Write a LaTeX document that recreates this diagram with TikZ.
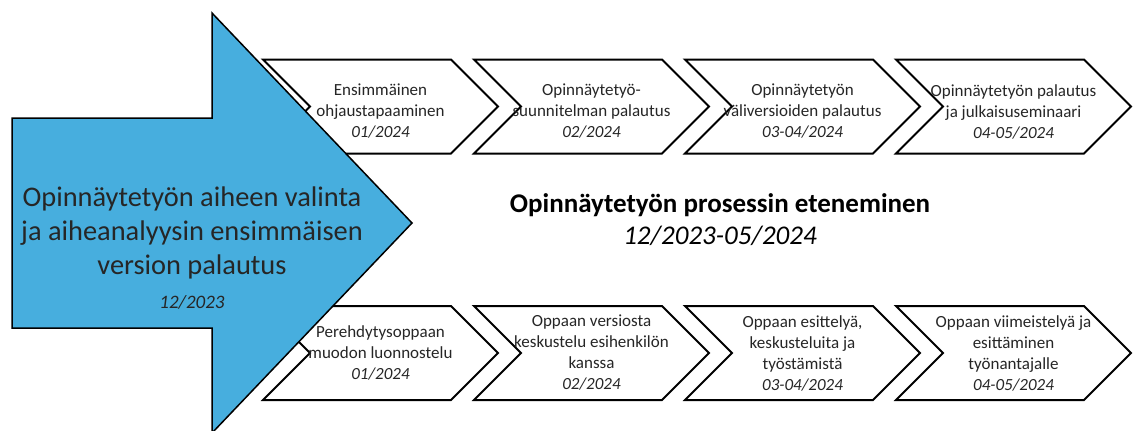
\documentclass[tikz,border=0pt]{standalone}
\usepackage{fontspec}
\setmainfont{Carlito}
\definecolor{opblue}{HTML}{47AEDE}
\definecolor{optext}{HTML}{262626}
\usetikzlibrary{shapes.symbols}

\begin{document}
\begin{tikzpicture}[x=0.5pt, y=-0.5pt,
  vaihe/.style={signal, signal from=west, signal to=east, signal pointer angle=90,
              draw=black, line width=1pt, fill=white, minimum width=117.5pt,
              minimum height=47pt, inner sep=0pt},
  vteksti/.style={align=center, text=optext, inner sep=0pt,
              font=\fontsize{8.5}{10.5}\selectfont}
]
  \useasboundingbox (0,0) rectangle (1133,430);

  % Opinnaytetyo (top row)
  \node[vaihe] (t1) at (380.5,106.5) {};
  \node[vaihe] (t2) at (591.5,106.5) {};
  \node[vaihe] (t3) at (802.5,106.5) {};
  \node[vaihe] (t4) at (1013.5,106.5) {};
  \node[vteksti] (t1txt) at ([yshift=-2.5pt]t1.center) {Ensimmäinen\\ohjaustapaaminen\\\textit{01/2024}};
  \node[vteksti] (t2txt) at ([yshift=-2.5pt]t2.center) {Opinnäytetyö-\\suunnitelman palautus\\\textit{02/2024}};
  \node[vteksti] (t3txt) at ([yshift=-2.5pt]t3.center) {Opinnäytetyön\\väliversioiden palautus\\\textit{03-04/2024}};
  \node[vteksti] (t4txt) at ([yshift=-2.5pt]t4.center) {Opinnäytetyön palautus\\ja julkaisuseminaari\\\textit{04-05/2024}};

  % Opas (bottom row)
  \node[vaihe] (o1) at (380.5,353) {};
  \node[vaihe] (o2) at (591.5,353) {};
  \node[vaihe] (o3) at (802.5,353) {};
  \node[vaihe] (o4) at (1013.5,353) {};
  \node[vteksti] (o1txt) at (o1) {Perehdytysoppaan\\muodon luonnostelu\\\textit{01/2024}};
  \node[vteksti] (o2txt) at (o2) {Oppaan versiosta\\keskustelu esihenkilön\\kanssa\\\textit{02/2024}};
  \node[vteksti] (o3txt) at (o3) {Oppaan esittelyä,\\keskusteluita ja\\työstämistä\\\textit{03-04/2024}};
  \node[vteksti] (o4txt) at (o4) {Oppaan viimeistelyä ja\\esittäminen\\työnantajalle\\\textit{04-05/2024}};

  % Big arrow
  \draw[fill=opblue, line width=0.75pt] (12,118) -- (212,118) -- (212,13) -- (412,223)
    -- (212,433) -- (212,328) -- (12,328) -- cycle;
  \node[align=center, text=optext, font=\fontsize{14.2}{17}\selectfont] (aihe) at (192,248)
    {Opinnäytetyön aiheen valinta\\ja aiheanalyysin ensimmäisen\\version palautus\\
     {\fontsize{9.5}{16}\selectfont\itshape 12/2023}};

  % Title
  \node[align=center, font=\fontsize{13.5}{16}\selectfont\bfseries] (otsikko) at (720,220)
    {Opinnäytetyön prosessin eteneminen\\{\mdseries\itshape 12/2023-05/2024}};
\end{tikzpicture}
\end{document}
